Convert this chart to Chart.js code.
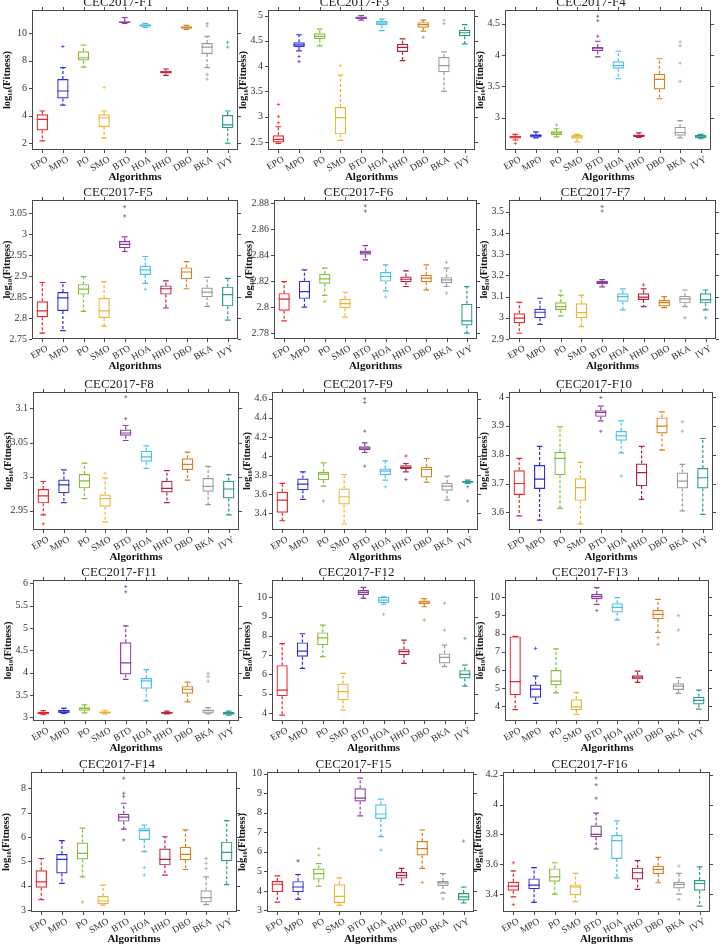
<!DOCTYPE html>
<html>
<head>
<meta charset="UTF-8">
<title>CEC2017 boxplots</title>
<script src="https://cdn.jsdelivr.net/npm/chart.js"></script>
<style>
  body { margin: 0; background: #fff; }
  #wrap { position: relative; width: 720px; height: 944px; overflow: hidden; }
  #wrap canvas { position: absolute; }
</style>
</head>
<body>
<div id="wrap"></div>
<script>
const algorithms = ['EPO', 'MPO', 'PO', 'SMO', 'BTO', 'HOA', 'HHO', 'DBO', 'BKA', 'IVY'];
const colors = ['#e8262c', '#2f2fdc', '#86bd3a', '#e9b634', '#8d3d9f', '#4bbfe8', '#b3223f', '#d8801f', '#9b9b9b', '#2a9a8d'];

// each row: [lower whisker, q1, median, q3, upper whisker]; outliers: [algorithm index, value]
const f1Stats = [[2.17,2.92,3.73,4.1,4.34],[4.77,5.25,5.8,6.67,7.5],[7.54,8.02,8.22,8.7,9.15],[2.36,3.18,3.85,4.1,4.34],[10.72,10.75,10.82,10.87,11.15],[10.43,10.48,10.58,10.67,10.72],[6.94,7.08,7.18,7.28,7.4],[10.29,10.34,10.43,10.5,10.58],[7.5,8.5,8.99,9.3,9.78],[2.0,3.08,3.33,4.05,4.34]];
const f1Outliers = [[1,9.04],[3,6.05],[8,10.72],[8,10.53],[8,7.0],[8,6.67],[9,9.35],[9,9.0]];
const f1Ticks = [2, 4, 6, 8, 10];

const f3Stats = [[2.47,2.49,2.55,2.63,2.8],[4.3,4.38,4.42,4.47,4.62],[4.4,4.53,4.59,4.65,4.73],[2.53,2.65,2.98,3.19,3.82],[4.91,4.93,4.95,4.98,5.0],[4.7,4.81,4.85,4.89,4.93],[4.11,4.28,4.37,4.44,4.54],[4.69,4.76,4.82,4.87,4.91],[3.5,3.88,4.01,4.18,4.28],[4.44,4.59,4.66,4.72,4.82]];
const f3Outliers = [[0,3.24],[0,3.0],[0,2.88],[1,4.19],[1,4.09],[3,4.01],[7,4.57],[8,4.91],[8,4.84]];
const f3Ticks = [2.5, 3, 3.5, 4, 4.5, 5];

const f4Stats = [[2.64,2.665,2.69,2.71,2.73],[2.675,2.68,2.71,2.734,2.77],[2.69,2.72,2.755,2.78,2.82],[2.61,2.66,2.69,2.72,2.73],[3.97,4.06,4.1,4.13,4.22],[3.62,3.78,3.83,3.9,4.06],[2.68,2.69,2.71,2.73,2.755],[3.3,3.45,3.61,3.7,3.94],[2.675,2.71,2.76,2.85,2.95],[2.66,2.67,2.7,2.72,2.73]];
const f4Outliers = [[0,2.585],[2,2.88],[4,4.62],[4,4.55],[4,4.3],[8,4.21],[8,4.15],[8,3.87],[8,3.58]];
const f4Ticks = [3, 3.5, 4, 4.5];

const f5Stats = [[2.764,2.802,2.817,2.84,2.885],[2.77,2.817,2.848,2.862,2.885],[2.816,2.856,2.869,2.881,2.899],[2.78,2.8,2.817,2.848,2.887],[2.959,2.967,2.976,2.984,2.994],[2.883,2.903,2.915,2.925,2.947],[2.824,2.856,2.87,2.878,2.889],[2.87,2.893,2.91,2.921,2.935],[2.828,2.85,2.862,2.873,2.897],[2.795,2.828,2.856,2.875,2.895]];
const f5Outliers = [[4,3.066],[4,3.044],[5,2.869]];
const f5Ticks = [2.75, 2.8, 2.85, 2.9, 2.95, 3, 3.05];

const f6Stats = [[2.7895,2.7972,2.8062,2.8108,2.8197],[2.8,2.8064,2.812,2.8203,2.8287],[2.809,2.818,2.8218,2.8256,2.83],[2.7923,2.7992,2.8028,2.8064,2.8115],[2.8364,2.8403,2.842,2.8436,2.8474],[2.8126,2.8197,2.8236,2.827,2.8326],[2.8159,2.8192,2.8215,2.8236,2.828],[2.8133,2.8192,2.8223,2.8249,2.8326],[2.8159,2.8185,2.821,2.8231,2.83],[2.78,2.7859,2.7895,2.8026,2.8158]];
const f6Outliers = [[2,2.8044],[4,2.878],[4,2.874],[5,2.808],[8,2.8346],[8,2.8108]];
const f6Ticks = [2.78, 2.8, 2.82, 2.84, 2.86, 2.88];

const f7Stats = [[2.927,2.974,2.998,3.021,3.073],[2.969,2.998,3.026,3.042,3.092],[3.009,3.037,3.053,3.073,3.107],[2.958,2.998,3.024,3.068,3.107],[3.146,3.158,3.166,3.174,3.18],[3.037,3.076,3.1,3.115,3.136],[3.053,3.084,3.097,3.115,3.136],[3.048,3.053,3.071,3.084,3.1],[3.053,3.068,3.089,3.103,3.131],[3.037,3.068,3.084,3.115,3.131]];
const f7Outliers = [[2,3.126],[4,3.524],[4,3.503],[6,3.155],[8,3.0],[9,3.0]];
const f7Ticks = [2.9, 3, 3.1, 3.2, 3.3, 3.4, 3.5];

const f8Stats = [[2.944,2.961,2.972,2.982,2.993],[2.962,2.976,2.988,2.996,3.01],[2.968,2.983,2.994,3.004,3.02],[2.934,2.956,2.968,2.974,2.998],[3.053,3.06,3.064,3.069,3.075],[3.012,3.022,3.029,3.038,3.045],[2.962,2.977,2.983,2.994,3.009],[2.995,3.01,3.018,3.027,3.036],[2.959,2.978,2.986,2.998,3.015],[2.944,2.968,2.982,2.994,3.003]];
const f8Outliers = [[0,2.931],[3,3.005],[4,3.117],[4,3.085]];
const f8Ticks = [2.95, 3, 3.05, 3.1];

const f9Stats = [[3.323,3.407,3.539,3.626,3.713],[3.546,3.643,3.706,3.765,3.835],[3.685,3.748,3.81,3.835,3.929],[3.289,3.494,3.574,3.661,3.807],[4.037,4.061,4.082,4.103,4.137],[3.748,3.8,3.842,3.87,3.95],[3.835,3.863,3.88,3.904,3.922],[3.727,3.776,3.859,3.887,3.974],[3.539,3.637,3.685,3.72,3.79],[3.713,3.72,3.73,3.741,3.748]];
const f9Outliers = [[2,3.529],[4,4.6],[4,4.56],[4,4.26],[4,3.894],[5,3.678],[6,4.0],[6,3.754],[9,3.678],[9,3.529]];
const f9Ticks = [3.4, 3.6, 3.8, 4, 4.2, 4.4, 4.6];

const f10Stats = [[3.588,3.66,3.7,3.746,3.787],[3.573,3.681,3.715,3.764,3.829],[3.614,3.729,3.787,3.81,3.896],[3.56,3.64,3.686,3.718,3.773],[3.917,3.931,3.946,3.954,3.968],[3.806,3.848,3.865,3.882,3.917],[3.645,3.691,3.738,3.769,3.829],[3.816,3.873,3.899,3.929,3.948],[3.605,3.683,3.708,3.738,3.766],[3.593,3.683,3.72,3.754,3.856]];
const f10Outliers = [[4,3.998],[4,3.881],[5,3.726],[8,3.914],[8,3.881]];
const f10Ticks = [3.6, 3.7, 3.8, 3.9, 4];

const f11Stats = [[3.06,3.07,3.09,3.12,3.15],[3.09,3.1,3.14,3.17,3.21],[3.1,3.15,3.2,3.23,3.28],[3.08,3.08,3.11,3.14,3.16],[3.85,3.96,4.22,4.68,5.05],[3.37,3.64,3.82,3.88,4.07],[3.08,3.08,3.1,3.12,3.14],[3.35,3.53,3.63,3.7,3.79],[3.08,3.09,3.15,3.18,3.22],[3.05,3.06,3.09,3.12,3.14]];
const f11Outliers = [[4,5.93],[4,5.81],[8,3.98],[8,3.91],[8,3.81]];
const f11Ticks = [3, 3.5, 4, 4.5, 5, 5.5, 6];

const f12Stats = [[3.88,4.87,5.18,6.48,7.6],[6.31,6.92,7.21,7.66,8.11],[6.92,7.52,7.9,8.18,8.56],[4.14,4.66,5.1,5.53,6.05],[9.95,10.12,10.26,10.38,10.52],[9.64,9.69,9.86,10.03,10.03],[6.57,7.0,7.18,7.31,7.78],[9.51,9.65,9.76,9.83,9.93],[6.4,6.57,6.88,7.09,7.52],[5.39,5.79,6.0,6.22,6.48]];
const f12Outliers = [[5,9.12],[7,8.82],[8,9.69],[8,8.3],[9,7.87]];
const f12Ticks = [4, 5, 6, 7, 8, 9, 10];

const f13Stats = [[3.83,4.62,5.36,7.85,7.85],[4.17,4.48,4.95,5.21,5.67],[4.75,5.17,5.39,6.0,7.16],[3.56,3.8,3.98,4.39,4.77],[9.61,9.89,10.04,10.18,10.53],[8.75,9.17,9.45,9.67,9.98],[5.32,5.49,5.61,5.72,5.94],[8.07,8.79,9.06,9.3,9.89],[4.72,4.9,5.12,5.27,5.58],[3.85,4.11,4.33,4.53,4.9]];
const f13Outliers = [[1,7.19],[4,9.27],[7,7.78],[7,7.41],[8,8.99],[8,8.2]];
const f13Ticks = [4, 5, 6, 7, 8, 9, 10];

const f14Stats = [[3.44,3.92,4.16,4.64,5.12],[4.1,4.51,5.08,5.3,5.85],[4.37,5.08,5.33,5.77,6.36],[3.21,3.25,3.38,3.58,4.03],[6.32,6.63,6.81,6.95,7.38],[5.4,5.88,6.26,6.36,6.49],[4.44,4.84,5.08,5.53,6.01],[4.67,5.05,5.29,5.6,6.29],[3.23,3.32,3.52,3.82,4.37],[4.05,5.01,5.37,5.81,6.67]];
const f14Outliers = [[2,3.34],[4,8.41],[4,7.79],[4,7.66],[4,5.88],[5,4.75],[5,4.44],[8,5.12],[8,4.92],[8,4.71]];
const f14Ticks = [3, 4, 5, 6, 7, 8];

const f15Stats = [[3.43,3.94,4.34,4.51,4.77],[3.57,3.94,4.2,4.5,4.84],[4.24,4.58,4.89,5.15,5.4],[3.26,3.38,3.72,4.34,4.67],[7.84,8.58,8.75,9.26,9.78],[6.78,7.68,7.94,8.44,8.7],[4.32,4.63,4.8,4.97,5.15],[5.15,5.81,6.17,6.55,7.12],[3.89,4.25,4.41,4.51,4.89],[3.38,3.51,3.69,3.89,4.2]];
const f15Outliers = [[1,5.54],[2,6.17],[2,5.83],[5,6.09],[7,4.43],[8,3.6],[9,6.55]];
const f15Ticks = [3, 4, 5, 6, 7, 8, 9, 10];

const f16Stats = [[3.382,3.422,3.453,3.483,3.556],[3.344,3.433,3.46,3.505,3.577],[3.4,3.483,3.516,3.572,3.61],[3.35,3.393,3.449,3.465,3.539],[3.702,3.781,3.8,3.859,3.942],[3.509,3.635,3.758,3.796,3.89],[3.431,3.498,3.543,3.577,3.624],[3.476,3.534,3.565,3.59,3.646],[3.4,3.438,3.465,3.483,3.539],[3.32,3.422,3.471,3.494,3.583]];
const f16Outliers = [[0,3.61],[0,3.33],[4,4.178],[4,4.133],[4,4.043],[8,3.588],[8,3.364]];
const f16Ticks = [3.4, 3.6, 3.8, 4, 4.2];

// panel setup: y range and frame box [left, top, right, bottom] on the page
const panels = [
  { title: 'CEC2017-F1',  stats: f1Stats,  outliers: f1Outliers,  ticks: f1Ticks,  range: [1.5, 11.7],      frame: [32, 10, 238, 150] },
  { title: 'CEC2017-F3',  stats: f3Stats,  outliers: f3Outliers,  ticks: f3Ticks,  range: [2.34, 5.11],     frame: [268, 10, 475, 150] },
  { title: 'CEC2017-F4',  stats: f4Stats,  outliers: f4Outliers,  ticks: f4Ticks,  range: [2.48, 4.72],     frame: [505, 10, 711, 150] },
  { title: 'CEC2017-F5',  stats: f5Stats,  outliers: f5Outliers,  ticks: f5Ticks,  range: [2.75, 3.082],    frame: [32, 200, 238, 339] },
  { title: 'CEC2017-F6',  stats: f6Stats,  outliers: f6Outliers,  ticks: f6Ticks,  range: [2.7755, 2.8825], frame: [274, 200, 477, 339] },
  { title: 'CEC2017-F7',  stats: f7Stats,  outliers: f7Outliers,  ticks: f7Ticks,  range: [2.9, 3.555],      frame: [509, 200, 716, 339] },
  { title: 'CEC2017-F8',  stats: f8Stats,  outliers: f8Outliers,  ticks: f8Ticks,  range: [2.922, 3.124],   frame: [33, 392, 239, 530] },
  { title: 'CEC2017-F9',  stats: f9Stats,  outliers: f9Outliers,  ticks: f9Ticks,  range: [3.226, 4.67],    frame: [272, 392, 478, 530] },
  { title: 'CEC2017-F10', stats: f10Stats, outliers: f10Outliers, ticks: f10Ticks, range: [3.539, 4.017],   frame: [509, 392, 713, 530] },
  { title: 'CEC2017-F11', stats: f11Stats, outliers: f11Outliers, ticks: f11Ticks, range: [2.92, 6.075],    frame: [33, 580, 239, 721] },
  { title: 'CEC2017-F12', stats: f12Stats, outliers: f12Outliers, ticks: f12Ticks, range: [3.58, 10.9],     frame: [272, 580, 475, 721] },
  { title: 'CEC2017-F13', stats: f13Stats, outliers: f13Outliers, ticks: f13Ticks, range: [3.2, 10.95],     frame: [505, 580, 709, 721] },
  { title: 'CEC2017-F14', stats: f14Stats, outliers: f14Outliers, ticks: f14Ticks, range: [2.93, 8.66],     frame: [31, 772, 237, 912] },
  { title: 'CEC2017-F15', stats: f15Stats, outliers: f15Outliers, ticks: f15Ticks, range: [2.92, 10.09],    frame: [267, 772, 474, 912] },
  { title: 'CEC2017-F16', stats: f16Stats, outliers: f16Outliers, ticks: f16Ticks, range: [3.28, 4.218],    frame: [503, 772, 710, 912] }
];

const serif = "'Liberation Serif', 'Times New Roman', serif";
const frameColor = '#4a4a4a';
const PAD_L = 34, PAD_R = 34, PAD_T = 22, PAD_B = 36;

// whiskers, caps and medians, drawn through the chart's scales
function boxPlugin(stats) {
  return {
    id: 'boxes',
    afterDatasetsDraw(chart) {
      const { ctx, scales: { x, y } } = chart;
      const bars = chart.getDatasetMeta(0).data;
      ctx.save();
      ctx.lineWidth = 1.2;
      stats.forEach((s, i) => {
        const cx = x.getPixelForValue(i);
        const half = bars[i].width / 2;
        const [lo, q1, med, q3, hi] = s.map(v => y.getPixelForValue(v));
        ctx.strokeStyle = colors[i];
        ctx.setLineDash([3, 2]);
        ctx.beginPath();
        ctx.moveTo(cx, q3); ctx.lineTo(cx, hi);
        ctx.moveTo(cx, q1); ctx.lineTo(cx, lo);
        ctx.stroke();
        ctx.setLineDash([]);
        ctx.beginPath();
        ctx.moveTo(cx - half / 2, hi); ctx.lineTo(cx + half / 2, hi);
        ctx.moveTo(cx - half / 2, lo); ctx.lineTo(cx + half / 2, lo);
        ctx.moveTo(cx - half, med); ctx.lineTo(cx + half, med);
        ctx.stroke();
      });
      ctx.restore();
    }
  };
}

// box frame with outward tick marks on all four sides
const framePlugin = {
  id: 'frame',
  afterDraw(chart) {
    const { ctx, chartArea: a, scales: { x, y } } = chart;
    ctx.save();
    ctx.strokeStyle = frameColor;
    ctx.lineWidth = 1;
    ctx.strokeRect(a.left + 0.5, a.top + 0.5, a.right - a.left - 1, a.bottom - a.top - 1);
    ctx.beginPath();
    x.ticks.forEach((t, i) => {
      const px = Math.round(x.getPixelForTick(i)) + 0.5;
      ctx.moveTo(px, a.top); ctx.lineTo(px, a.top - 3);
      ctx.moveTo(px, a.bottom); ctx.lineTo(px, a.bottom + 3);
    });
    y.ticks.forEach(t => {
      const py = Math.round(y.getPixelForValue(t.value)) + 0.5;
      ctx.moveTo(a.left, py); ctx.lineTo(a.left - 3, py);
      ctx.moveTo(a.right, py); ctx.lineTo(a.right + 3, py);
    });
    ctx.stroke();
    ctx.restore();
  }
};

const wrap = document.getElementById('wrap');

panels.forEach(p => {
  const [L, T, R, B] = p.frame;
  const canvas = document.createElement('canvas');
  canvas.width = R - L + PAD_L + PAD_R;
  canvas.height = B - T + PAD_T + PAD_B;
  canvas.style.left = (L - PAD_L) + 'px';
  canvas.style.top = (T - PAD_T) + 'px';
  wrap.appendChild(canvas);

  new Chart(canvas.getContext('2d'), {
    type: 'bar',
    data: {
      labels: algorithms,
      datasets: [
        {
          type: 'bar',
          data: p.stats.map(s => [s[1], s[3]]),
          backgroundColor: 'rgba(255,255,255,0)',
          borderColor: colors,
          borderWidth: 1.2,
          borderSkipped: false,
          barPercentage: 0.55,
          categoryPercentage: 1
        },
        {
          type: 'scatter',
          data: p.outliers.map(([i, v]) => ({ x: algorithms[i], y: v })),
          pointStyle: 'cross',
          pointRadius: 1.7,
          pointBorderWidth: 0.7,
          pointBorderColor: p.outliers.map(([i]) => colors[i]),
          showLine: false
        }
      ]
    },
    options: {
      responsive: false,
      animation: false,
      layout: { padding: { left: 0, right: PAD_R, top: 0, bottom: 0 } },
      plugins: {
        legend: { display: false },
        tooltip: { enabled: false },
        title: {
          display: true,
          text: p.title,
          color: '#222',
          font: { family: serif, size: 13, weight: 'normal', lineHeight: 1 },
          padding: { top: 8, bottom: 1 }
        }
      },
      scales: {
        x: {
          type: 'category',
          offset: true,
          grid: { display: false, drawTicks: false },
          border: { display: false },
          ticks: {
            autoSkip: false, minRotation: 30, maxRotation: 30, padding: 4, labelOffset: 5,
            color: '#333', font: { family: serif, size: 9.5 }
          },
          title: {
            display: true, text: 'Algorithms', color: '#111',
            font: { family: serif, size: 11, weight: 'bold', lineHeight: 1.2 },
            padding: { top: 0, bottom: 2 }
          },
          afterFit: s => { s.height = PAD_B; }
        },
        y: {
          min: p.range[0],
          max: p.range[1],
          grid: { display: false, drawTicks: false },
          border: { display: false },
          ticks: {
            padding: 5, color: '#333', font: { family: serif, size: 10 },
            callback: v => String(+Number(v).toFixed(3))
          },
          afterBuildTicks: s => { s.ticks = p.ticks.map(v => ({ value: v })); },
          title: {
            display: true, text: 'log₁₀(Fitness)', color: '#111',
            font: { family: serif, size: 10.5, weight: 'bold', lineHeight: 1.2 },
            padding: { top: 3, bottom: 0 }
          },
          afterFit: s => { s.width = PAD_L; }
        }
      }
    },
    plugins: [boxPlugin(p.stats), framePlugin]
  });
});
</script>
</body>
</html>
